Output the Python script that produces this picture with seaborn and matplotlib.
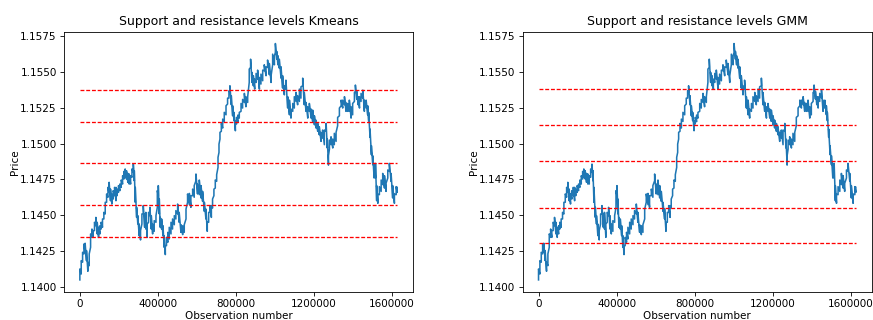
import numpy as np
import pandas as pd
import matplotlib
matplotlib.use("Agg")
import matplotlib.pyplot as plt
import seaborn as sns

# Observation index (thousands) with the local high / low of the price band
obs_thousands = [
    0, 7, 14, 21, 27, 34, 41, 48, 55, 62, 68, 75, 82, 89, 96, 103, 109, 116, 123, 130,
    137, 144, 150, 157, 164, 171, 178, 185, 191, 198, 205, 212, 219, 226, 232, 239, 246, 253, 260, 267,
    274, 279, 284, 291, 297, 304, 311, 318, 325, 332, 338, 345, 352, 359, 366, 373, 381, 390, 397, 402,
    407, 412, 419, 426, 432, 438, 444, 451, 458, 467, 475, 484, 492, 501, 509, 518, 527, 535, 544, 552,
    561, 569, 578, 586, 595, 603, 612, 621, 629, 638, 646, 653, 660, 667, 674, 680, 687, 694, 701, 708,
    713, 718, 725, 732, 740, 749, 757, 764, 769, 776, 783, 790, 797, 803, 810, 817, 826, 834, 843, 851,
    860, 868, 875, 882, 889, 896, 903, 911, 920, 928, 937, 945, 954, 962, 971, 980, 988, 997, 1002, 1009,
    1015, 1022, 1031, 1039, 1048, 1056, 1065, 1074, 1082, 1091, 1099, 1108, 1116, 1125, 1133, 1142, 1150, 1159, 1168, 1176,
    1185, 1193, 1202, 1210, 1219, 1227, 1236, 1244, 1253, 1262, 1268, 1274, 1279, 1287, 1296, 1304, 1313, 1321, 1330, 1339,
    1347, 1356, 1364, 1373, 1381, 1390, 1398, 1407, 1412, 1419, 1426, 1433, 1441, 1450, 1458, 1467, 1475, 1480, 1487, 1494,
    1501, 1508, 1515, 1521, 1527, 1535, 1544, 1552, 1561, 1569, 1578, 1586, 1595, 1603, 1612, 1621, 1626,
]

price_hi = [
    1.14127, 1.14185, 1.14243, 1.14301, 1.14306, 1.14255, 1.14174, 1.14232, 1.14371, 1.14405,
    1.14394, 1.14452, 1.14486, 1.14452, 1.14417, 1.14428, 1.14452, 1.14475, 1.14521, 1.14591,
    1.14649, 1.14695, 1.14730, 1.14683, 1.14649, 1.14672, 1.14695, 1.14695, 1.14683, 1.14707,
    1.14718, 1.14746, 1.14776, 1.14806, 1.14823, 1.14811, 1.14792, 1.14788, 1.14776, 1.14823,
    1.14857, 1.14811, 1.14695, 1.14556, 1.14498, 1.14440, 1.14394, 1.14510, 1.14568, 1.14510,
    1.14521, 1.14440, 1.14521, 1.14556, 1.14498, 1.14440, 1.14463, 1.14498, 1.14672, 1.14707,
    1.14614, 1.14486, 1.14475, 1.14428, 1.14359, 1.14289, 1.14347, 1.14382, 1.14417, 1.14452,
    1.14475, 1.14498, 1.14533, 1.14579, 1.14521, 1.14435, 1.14428, 1.14435, 1.14544, 1.14649,
    1.14653, 1.14637, 1.14683, 1.14707, 1.14788, 1.14718, 1.14746, 1.14707, 1.14667, 1.14591,
    1.14544, 1.14452, 1.14521, 1.14568, 1.14568, 1.14614, 1.14683, 1.14746, 1.14783, 1.14904,
    1.14996, 1.15078, 1.15140, 1.15170, 1.15217, 1.15263, 1.15316, 1.15367, 1.15402, 1.15333,
    1.15263, 1.15217, 1.15159, 1.15182, 1.15198, 1.15217, 1.15279, 1.15307, 1.15349, 1.15326,
    1.15326, 1.15518, 1.15587, 1.15495, 1.15472, 1.15448, 1.15488, 1.15511, 1.15460, 1.15483,
    1.15511, 1.15548, 1.15534, 1.15581, 1.15557, 1.15472, 1.15622, 1.15611, 1.15696, 1.15641,
    1.15611, 1.15587, 1.15534, 1.15472, 1.15402, 1.15441, 1.15326, 1.15302, 1.15240, 1.15279,
    1.15326, 1.15356, 1.15333, 1.15379, 1.15395, 1.15455, 1.15356, 1.15286, 1.15256, 1.15279,
    1.15240, 1.15233, 1.15193, 1.15163, 1.15140, 1.15117, 1.15078, 1.15094, 1.15094, 1.15140,
    1.15031, 1.14915, 1.15024, 1.15047, 1.15031, 1.15071, 1.15078, 1.15182, 1.15247, 1.15302,
    1.15302, 1.15326, 1.15286, 1.15279, 1.15302, 1.15256, 1.15279, 1.15356, 1.15407, 1.15363,
    1.15326, 1.15326, 1.15349, 1.15372, 1.15302, 1.15302, 1.15263, 1.15217, 1.15101, 1.14985,
    1.14915, 1.14862, 1.14862, 1.14707, 1.14649, 1.14700, 1.14746, 1.14792, 1.14776, 1.14723,
    1.14816, 1.14862, 1.14792, 1.14707, 1.14649, 1.14700, 1.14695,
]

price_lo = [
    1.14051, 1.14092, 1.14174, 1.14232, 1.14243, 1.14185, 1.14111, 1.14150, 1.14278, 1.14347,
    1.14347, 1.14394, 1.14428, 1.14371, 1.14347, 1.14371, 1.14405, 1.14417, 1.14475, 1.14510,
    1.14591, 1.14626, 1.14660, 1.14602, 1.14579, 1.14614, 1.14637, 1.14602, 1.14637, 1.14660,
    1.14672, 1.14695, 1.14718, 1.14753, 1.14765, 1.14753, 1.14730, 1.14718, 1.14718, 1.14765,
    1.14799, 1.14741, 1.14591, 1.14486, 1.14440, 1.14359, 1.14329, 1.14440, 1.14510, 1.14417,
    1.14405, 1.14347, 1.14452, 1.14498, 1.14405, 1.14371, 1.14389, 1.14452, 1.14556, 1.14637,
    1.14510, 1.14417, 1.14405, 1.14359, 1.14278, 1.14227, 1.14289, 1.14313, 1.14336, 1.14371,
    1.14405, 1.14435, 1.14475, 1.14510, 1.14452, 1.14382, 1.14366, 1.14382, 1.14475, 1.14591,
    1.14575, 1.14556, 1.14637, 1.14626, 1.14741, 1.14649, 1.14644, 1.14621, 1.14598, 1.14528,
    1.14475, 1.14389, 1.14452, 1.14521, 1.14486, 1.14551, 1.14637, 1.14690, 1.14737, 1.14834,
    1.14938, 1.15031, 1.15085, 1.15108, 1.15154, 1.15200, 1.15275, 1.15316, 1.15356, 1.15270,
    1.15193, 1.15159, 1.15089, 1.15136, 1.15152, 1.15177, 1.15224, 1.15247, 1.15286, 1.15256,
    1.15286, 1.15425, 1.15530, 1.15425, 1.15402, 1.15379, 1.15425, 1.15448, 1.15379, 1.15414,
    1.15437, 1.15506, 1.15472, 1.15530, 1.15479, 1.15425, 1.15548, 1.15548, 1.15634, 1.15587,
    1.15548, 1.15525, 1.15455, 1.15386, 1.15339, 1.15379, 1.15247, 1.15200, 1.15177, 1.15224,
    1.15247, 1.15293, 1.15270, 1.15293, 1.15316, 1.15402, 1.15270, 1.15224, 1.15177, 1.15224,
    1.15177, 1.15154, 1.15131, 1.15108, 1.15085, 1.15061, 1.15015, 1.15038, 1.14992, 1.15085,
    1.14969, 1.14850, 1.14962, 1.14992, 1.14969, 1.14992, 1.15015, 1.15124, 1.15193, 1.15263,
    1.15247, 1.15270, 1.15224, 1.15224, 1.15224, 1.15177, 1.15200, 1.15293, 1.15356, 1.15309,
    1.15270, 1.15247, 1.15293, 1.15316, 1.15224, 1.15247, 1.15200, 1.15159, 1.15043, 1.14922,
    1.14853, 1.14760, 1.14760, 1.14602, 1.14584, 1.14644, 1.14667, 1.14714, 1.14690, 1.14667,
    1.14760, 1.14806, 1.14737, 1.14621, 1.14584, 1.14644, 1.14660,
]

# Price levels found by each clustering method
levels_kmeans = [1.15372, 1.15147, 1.14862, 1.14575, 1.14347]
levels_gmm = [1.15377, 1.15131, 1.14879, 1.14554, 1.14311]

titles = ["Support and resistance levels Kmeans", "Support and resistance levels GMM"]
x_ticks = [0, 400000, 800000, 1200000, 1600000]
y_ticks = [1.1400, 1.1425, 1.1450, 1.1475, 1.1500, 1.1525, 1.1550, 1.1575]

obs = np.array(obs_thousands) * 1000
# alternate low/high readings so the noisy band is drawn as one path
df = pd.DataFrame({
    "obs": np.repeat(obs, 2),
    "price": np.column_stack([price_lo, price_hi]).ravel(),
})

DPI = 75
fig = plt.figure(figsize=(873 / DPI, 320 / DPI), dpi=DPI)
ax_left = fig.add_axes([0.0733, 0.0884, 0.3998, 0.8125])
ax_right = fig.add_axes([0.5987, 0.0884, 0.3998, 0.8125])

for ax, title, levels in zip([ax_left, ax_right], titles, [levels_kmeans, levels_gmm]):
    sns.lineplot(data=df, x="obs", y="price", estimator=None, sort=False,
                 color="#1f77b4", linewidth=1.5, ax=ax)
    ax.hlines(levels, 0, obs[-1], colors="red", linestyles=(0, (3, 1.4)), linewidth=1.25)
    ax.set_title(title)
    ax.set_xlabel("Observation number", labelpad=2)
    ax.set_ylabel("Price", labelpad=0)
    ax.set_xticks(x_ticks)
    ax.set_xticklabels([str(t) for t in x_ticks])
    ax.set_yticks(y_ticks)
    ax.set_yticklabels([f"{t:.4f}" for t in y_ticks])

fig.savefig("out.png", dpi=DPI)
